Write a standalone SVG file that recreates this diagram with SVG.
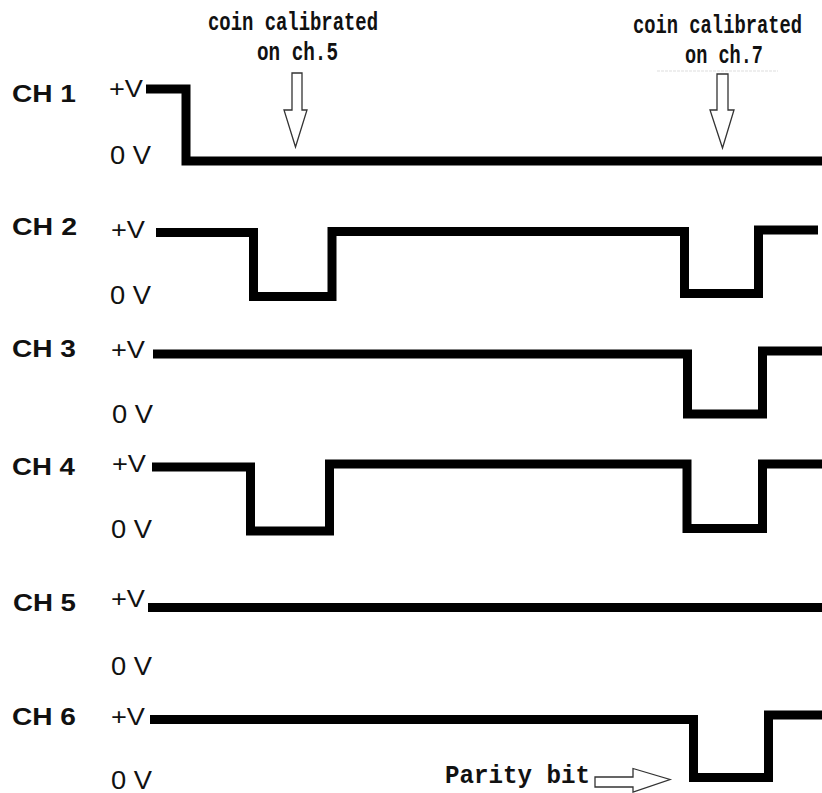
<svg xmlns="http://www.w3.org/2000/svg" width="822" height="793" viewBox="0 0 822 793">
<style>
.ch{font-family:"Liberation Sans",Arial,sans-serif;font-weight:bold;font-size:23px;fill:#111}
.pv{font-family:"Liberation Sans",Arial,sans-serif;font-size:23px;fill:#111}
.zv{font-family:"Liberation Sans",Arial,sans-serif;font-size:25px;fill:#111}
.mono{font-family:"Liberation Mono","Courier New",monospace;font-weight:bold;font-size:25px;fill:#111}
.wave{fill:none;stroke:#000;stroke-width:9;stroke-linejoin:miter;stroke-linecap:butt}
.arr{fill:#fff;stroke:#333;stroke-width:1.3;stroke-linejoin:miter}
</style>
<rect width="822" height="793" fill="#fff"/>

<g id="ch1">
<text class="ch" x="12" y="102" textLength="64" lengthAdjust="spacingAndGlyphs">CH 1</text>
<text class="pv" x="109" y="97" textLength="34" lengthAdjust="spacingAndGlyphs">+V</text>
<text class="zv" x="110" y="164" textLength="41" lengthAdjust="spacingAndGlyphs">0 V</text>
<path class="wave" d="M146,89 H186 V161 H822"/>
</g>

<g id="ch2">
<text class="ch" x="12" y="235" textLength="65" lengthAdjust="spacingAndGlyphs">CH 2</text>
<text class="pv" x="111" y="238" textLength="34" lengthAdjust="spacingAndGlyphs">+V</text>
<text class="zv" x="110" y="304" textLength="41" lengthAdjust="spacingAndGlyphs">0 V</text>
<path class="wave" d="M156,232.5 H253.5 V296.5 H332 V231.5 H684.5 V293.5 H758.5 V230 H818"/>
</g>

<g id="ch3">
<text class="ch" x="12" y="357" textLength="64" lengthAdjust="spacingAndGlyphs">CH 3</text>
<text class="pv" x="111" y="358" textLength="34" lengthAdjust="spacingAndGlyphs">+V</text>
<text class="zv" x="112" y="423" textLength="41" lengthAdjust="spacingAndGlyphs">0 V</text>
<path class="wave" d="M153,354 H687.5 V414 H762.5 V351 H822"/>
</g>

<g id="ch4">
<text class="ch" x="12" y="475" textLength="63" lengthAdjust="spacingAndGlyphs">CH 4</text>
<text class="pv" x="112" y="472" textLength="34" lengthAdjust="spacingAndGlyphs">+V</text>
<text class="zv" x="111" y="538" textLength="41" lengthAdjust="spacingAndGlyphs">0 V</text>
<path class="wave" d="M152,467 H250.5 V531 H329.5 V464 H687 V528.5 H762.5 V464 H822"/>
</g>

<g id="ch5">
<text class="ch" x="13" y="611" textLength="63" lengthAdjust="spacingAndGlyphs">CH 5</text>
<text class="pv" x="111" y="607" textLength="34" lengthAdjust="spacingAndGlyphs">+V</text>
<text class="zv" x="111" y="675" textLength="41" lengthAdjust="spacingAndGlyphs">0 V</text>
<path class="wave" d="M148,607.5 H822"/>
</g>

<g id="ch6">
<text class="ch" x="12" y="725" textLength="64" lengthAdjust="spacingAndGlyphs">CH 6</text>
<text class="pv" x="111" y="725" textLength="34" lengthAdjust="spacingAndGlyphs">+V</text>
<text class="zv" x="111" y="789" textLength="41" lengthAdjust="spacingAndGlyphs">0 V</text>
<path class="wave" d="M150,719.5 H693.5 V777.5 H768.5 V715 H822"/>
</g>

<g id="annotations">
<text class="mono" x="208" y="30" textLength="170" lengthAdjust="spacingAndGlyphs">coin calibrated</text>
<text class="mono" x="257" y="60" textLength="81" lengthAdjust="spacingAndGlyphs">on ch.5</text>
<text class="mono" x="633" y="33" textLength="169" lengthAdjust="spacingAndGlyphs">coin calibrated</text>
<text class="mono" x="685" y="63" textLength="78" lengthAdjust="spacingAndGlyphs">on ch.7</text>
<line x1="657" y1="71" x2="778" y2="71" stroke="#ddd" stroke-width="1" stroke-dasharray="3 1"/>
<text class="mono" x="445" y="783" font-size="26" textLength="145" lengthAdjust="spacingAndGlyphs">Parity bit</text>
</g>

<g id="connectors">
<polygon class="arr" points="292,73 302,73 302,110 307,110 295.5,147 284,110 292,110"/>
<polygon class="arr" points="717,74 728,74 728,110 734,110 722.5,148 710,110 717,110"/>
<polygon class="arr" points="595,777 633,777 633,768.5 670,779.5 633,792 633,787 595,787"/>
</g>
</svg>
